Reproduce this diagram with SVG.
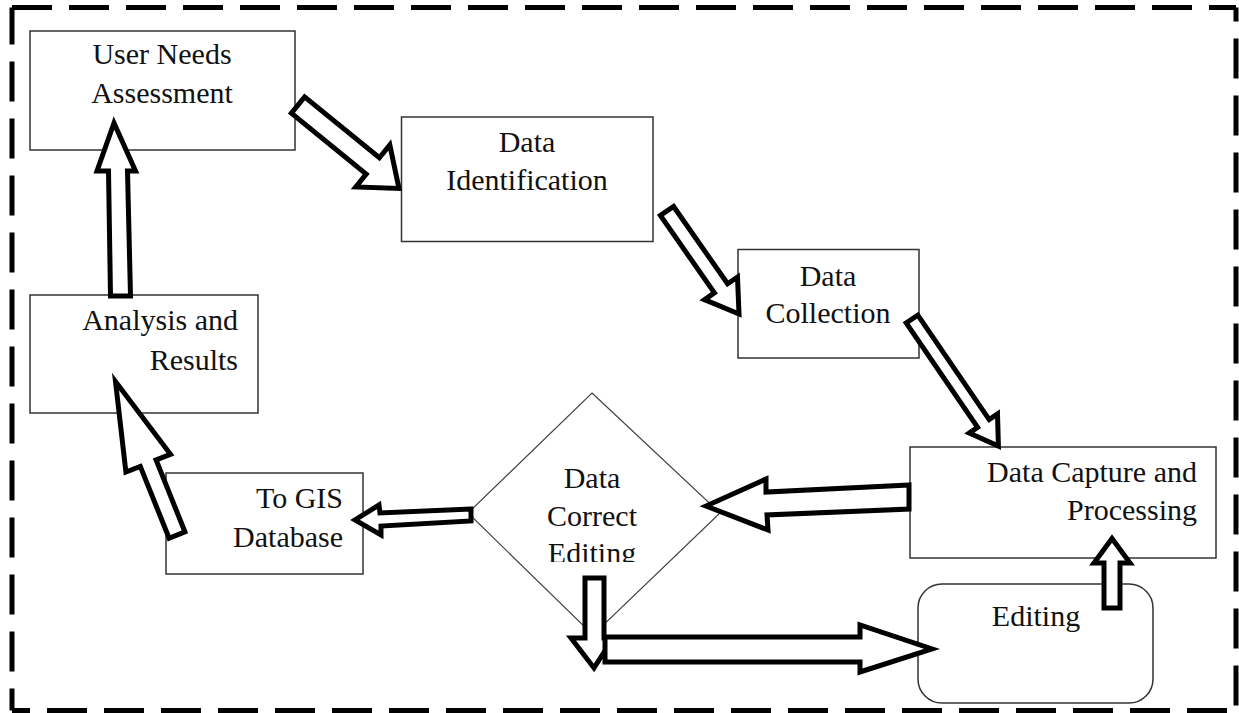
<svg xmlns="http://www.w3.org/2000/svg" width="1239" height="713" viewBox="0 0 1239 713">
<style>
.box{fill:#fff;stroke:#333;stroke-width:1.5}
.dia{fill:#fff;stroke:#444;stroke-width:1.2}
.t{font-family:"Liberation Serif","Times New Roman",serif;font-size:30px;fill:#111}
.c{text-anchor:middle}
.r{text-anchor:end}
.arr{fill:#fff;stroke:#000;stroke-width:5;stroke-linejoin:miter;stroke-miterlimit:6}
.brd{fill:none;stroke:#000;stroke-width:5;stroke-dasharray:40 17}
</style>
<defs>
<clipPath id="dclip"><rect x="440" y="380" width="320" height="182"/></clipPath>
</defs>
<g id="border">
<path class="brd" d="M12,7.5 H1236"/>
<path class="brd" d="M1236,7.5 V710.5" stroke-dashoffset="26"/>
<path class="brd" d="M12,710.5 H1236" stroke-dashoffset="22"/>
<path class="brd" d="M12,710.5 V7.5" stroke-dashoffset="18"/>
</g>
<g id="user-needs">
<rect class="box" x="30" y="31" width="265" height="119"/>
<text class="t c" x="162" y="64">User Needs</text>
<text class="t c" x="162" y="103">Assessment</text>
</g>
<g id="data-identification">
<rect class="box" x="401.5" y="117" width="251.5" height="124.5"/>
<text class="t c" x="527" y="152">Data</text>
<text class="t c" x="527" y="190">Identification</text>
</g>
<g id="data-collection">
<rect class="box" x="738" y="249.5" width="181" height="108.5"/>
<text class="t c" x="828" y="286">Data</text>
<text class="t c" x="828" y="323">Collection</text>
</g>
<g id="data-capture">
<rect class="box" x="910" y="447" width="306" height="111"/>
<text class="t r" x="1197" y="482">Data Capture and</text>
<text class="t r" x="1197" y="520">Processing</text>
</g>
<g id="editing">
<rect class="box" x="918" y="584" width="235" height="119" rx="24" ry="24"/>
<text class="t c" x="1036" y="626">Editing</text>
</g>
<g id="data-correct-editing">
<polygon class="dia" points="592,393 720,513 593,635 468,513"/>
<g clip-path="url(#dclip)">
<text class="t c" x="592" y="488">Data</text>
<text class="t c" x="592" y="526">Correct</text>
<text class="t c" x="592" y="563">Editing</text>
</g>
</g>
<g id="analysis-results">
<rect class="box" x="30" y="295" width="228" height="118"/>
<text class="t r" x="238" y="330">Analysis and</text>
<text class="t r" x="238" y="370">Results</text>
</g>
<g id="to-gis">
<rect class="box" x="166" y="473" width="197" height="101"/>
<text class="t r" x="343" y="508">To GIS</text>
<text class="t r" x="343" y="547">Database</text>
</g>
<g id="connectors">
<polygon class="arr" points="114,123 97,171 108.5,171 110.5,296 130.5,296 127.5,171 135.5,171"/>
<polygon class="arr" points="304.6,96.9 379.4,157.8 389.8,144.9 399,188.4 355.8,186.9 366.2,174 291.4,113.1"/>
<polygon class="arr" points="673.6,206.5 727.6,283.8 737.5,277 739,314 704.5,299.6 714.4,292.8 660.4,215.5"/>
<polygon class="arr" points="917.8,315.1 989.2,419.6 997.5,413.9 998.4,446 969.3,433.1 977.6,427.4 906.2,322.9"/>
<polygon class="arr" points="909,485 766,492 766,479 706,506 768,530 767,515 909,509"/>
<polygon class="arr" points="471,509 380,513 379,505 355,520 381,535 381,526 471,521"/>
<polygon class="arr" points="184.9,531.8 156.1,460 170.5,454.3 115.5,381.5 125.9,472.1 140.3,466.4 169.1,538.2"/>
<polygon class="arr" points="585,578 604,578 604,638 613,638 594,668 571,638 585,638"/>
<polygon class="arr" points="605,637 860,637 860,625 932,649 860,672 860,662 605,662"/>
<polygon class="arr" points="1104,608 1104,563 1094,563 1112,538.5 1130,563 1120,563 1120,608"/>
</g>
</svg>
